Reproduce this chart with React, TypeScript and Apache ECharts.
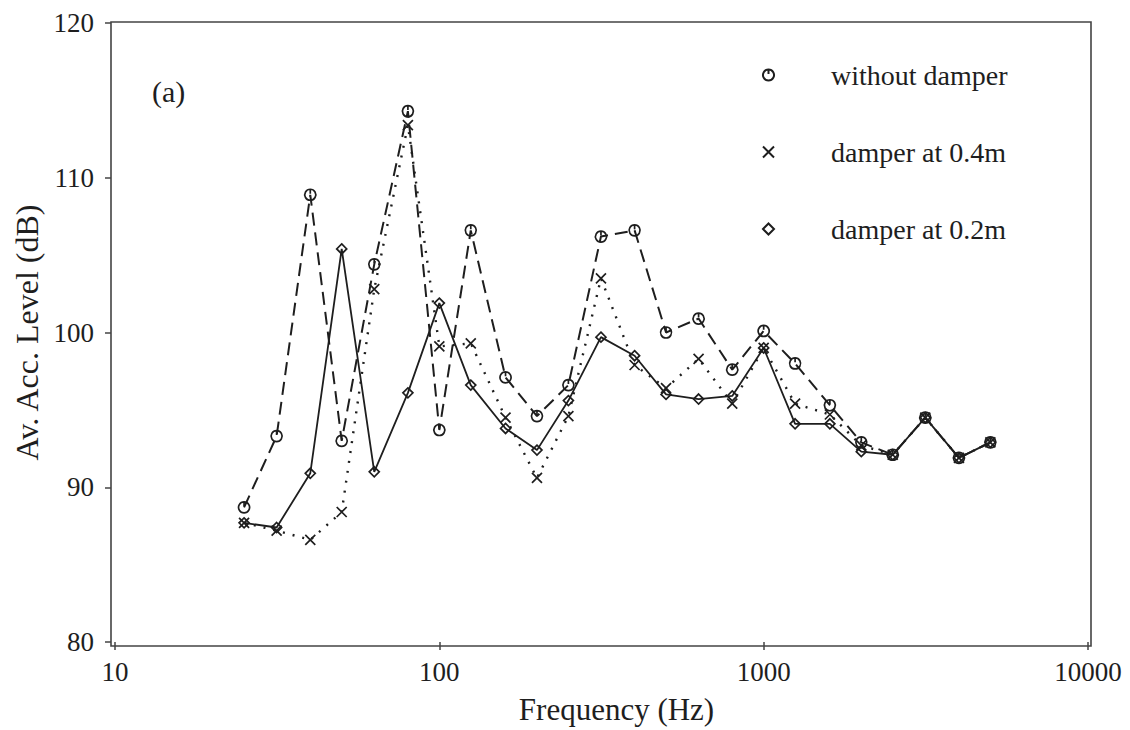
import React, { useEffect, useRef } from "react";
import * as echarts from "echarts";

const freqs = [25, 31.5, 40, 50, 63, 80, 100, 125, 160, 200, 250, 315, 400, 500, 630, 800, 1000, 1250, 1600, 2000, 2500, 3150, 4000, 5000];
const withoutDamper = [88.7, 93.3, 108.9, 93.0, 104.4, 114.3, 93.7, 106.6, 97.1, 94.6, 96.6, 106.2, 106.6, 100.0, 100.9, 97.6, 100.1, 98.0, 95.3, 92.9, 92.1, 94.5, 91.9, 92.9];
const damper04 = [87.7, 87.2, 86.6, 88.4, 102.8, 113.4, 99.1, 99.3, 94.5, 90.6, 94.6, 103.5, 97.9, 96.4, 98.3, 95.4, 99.0, 95.4, 94.7, 92.7, 92.1, 94.5, 91.9, 92.9];
const damper02 = [87.7, 87.4, 90.9, 105.4, 91.0, 96.1, 101.9, 96.6, 93.8, 92.4, 95.6, 99.7, 98.5, 96.0, 95.7, 95.9, 99.0, 94.1, 94.1, 92.3, 92.1, 94.5, 91.9, 92.9];
const seriesNames = ["without damper", "damper at 0.4m", "damper at 0.2m"];

const FONT = "'Liberation Serif', 'Times New Roman', serif";
const INK = "#1e1e1e";

const circleSym = "path://M5,0A5,5,0,1,1,4.999,0ZM5,0L5,4";
const crossSym = "path://M0,0L10,10M0,10L10,0";
const diamondSym = "path://M5,0L10,5L5,10L0,5Z";

function pairs(vals: number[]) {
  return freqs.map((f, i) => [f, vals[i]]);
}

export default function App() {
  const ref = useRef<HTMLDivElement>(null);
  useEffect(() => {
    if (!ref.current) return;
    const chart = echarts.init(ref.current, undefined, { renderer: "svg" });
    const sym = (s: string, size: number) => ({
      symbol: s,
      symbolSize: size,
      showAllSymbol: true,
      itemStyle: { color: "rgba(255,255,255,0)", borderColor: INK, borderWidth: 1.7 },
    });
    chart.setOption({
      animation: false,
      backgroundColor: "#fff",
      grid: { left: 115, right: 42, top: 23, bottom: 84 },
      xAxis: {
        type: "log",
        logBase: 10,
        min: 10,
        max: 10000,
        name: "Frequency (Hz)",
        nameLocation: "middle",
        nameGap: 52,
        nameTextStyle: { fontFamily: FONT, fontSize: 31, color: INK, padding: [0, 0, 0, 30] },
        axisLine: { show: false },
        axisTick: { show: true, length: 8, lineStyle: { color: "#444", width: 1.5 } },
        minorTick: { show: false },
        splitLine: { show: false },
        axisLabel: {
          fontFamily: FONT,
          fontSize: 27,
          color: INK,
          margin: 16,
          formatter: (v: number) => String(Math.round(v)),
        },
      },
      yAxis: {
        type: "value",
        min: 80,
        max: 120,
        interval: 10,
        offset: 4,
        name: "Av. Acc. Level (dB)",
        nameLocation: "middle",
        nameGap: 59,
        nameTextStyle: { fontFamily: FONT, fontSize: 32, color: INK },
        axisLine: { show: false },
        axisTick: { show: true, length: 6, lineStyle: { color: "#444", width: 1.5 } },
        splitLine: { show: false },
        axisLabel: { fontFamily: FONT, fontSize: 27, color: INK, margin: 17 },
      },
      legend: {
        orient: "vertical",
        left: 757,
        top: 56,
        itemWidth: 11,
        itemHeight: 11,
        itemGap: 49,
        textStyle: { fontFamily: FONT, fontSize: 28, color: INK, padding: [0, 0, 0, 52] },
        data: [
          { name: seriesNames[0], icon: circleSym },
          { name: seriesNames[1], icon: crossSym },
          { name: seriesNames[2], icon: diamondSym },
        ],
      },
      graphic: [
        {
          type: "rect",
          shape: { x: 111, y: 22, width: 980, height: 624 },
          style: { fill: "none", stroke: "#444", lineWidth: 1.6 },
          silent: true,
          z: 1,
        },
        {
          type: "text",
          left: 152,
          top: 76,
          style: { text: "(a)", font: `30px ${FONT}`, fill: INK },
        },
      ],
      series: [
        {
          name: seriesNames[0],
          type: "line",
          data: pairs(withoutDamper),
          lineStyle: { color: INK, width: 2, type: [13, 7] },
          ...sym(circleSym, 11),
          z: 3,
        },
        {
          name: seriesNames[1],
          type: "line",
          data: pairs(damper04),
          lineStyle: { color: INK, width: 2.4, type: [2, 8] },
          ...sym(crossSym, 10),
          z: 4,
        },
        {
          name: seriesNames[2],
          type: "line",
          data: pairs(damper02),
          lineStyle: { color: INK, width: 1.8, type: "solid" },
          ...sym(diamondSym, 10),
          z: 5,
        },
      ],
    });
    return () => chart.dispose();
  }, []);
  return <div ref={ref} style={{ position: "fixed", left: 0, top: 0, width: 1130, height: 730 }} />;
}
